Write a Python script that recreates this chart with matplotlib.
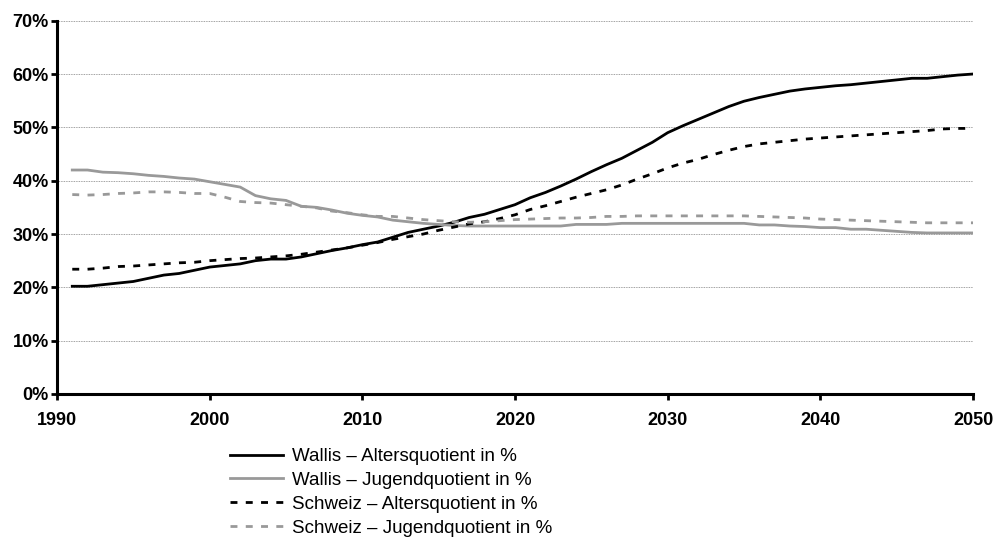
import numpy as np
import matplotlib
matplotlib.use("Agg")
import matplotlib.pyplot as plt
from matplotlib.ticker import FuncFormatter

# Jahre
jahre = list(range(1991, 2051))

# Wallis – Altersquotient in %
wallis_alter = [
    20.2, 20.2, 20.5, 20.8, 21.1, 21.7, 22.3, 22.6, 23.2, 23.8,
    24.1, 24.4, 25.0, 25.3, 25.3, 25.7, 26.3, 26.9, 27.4, 28.0,
    28.5, 29.4, 30.3, 30.9, 31.5, 32.2, 33.1, 33.7, 34.6, 35.5,
    36.8, 37.8, 39.0, 40.3, 41.7, 43.0, 44.2, 45.7, 47.2, 49.0,
    50.3, 51.5, 52.7, 53.9, 54.9, 55.6, 56.2, 56.8, 57.2, 57.5,
    57.8, 58.0, 58.3, 58.6, 58.9, 59.2, 59.2, 59.5, 59.8, 60.0,
]

# Wallis – Jugendquotient in %
wallis_jugend = [
    42.0, 42.0, 41.6, 41.5, 41.3, 41.0, 40.8, 40.5, 40.3, 39.8,
    39.3, 38.8, 37.2, 36.6, 36.3, 35.2, 35.0, 34.5, 33.9, 33.5,
    33.2, 32.6, 32.3, 32.0, 31.8, 31.6, 31.5, 31.5, 31.5, 31.5,
    31.5, 31.5, 31.5, 31.8, 31.8, 31.8, 32.0, 32.0, 32.0, 32.0,
    32.0, 32.0, 32.0, 32.0, 32.0, 31.7, 31.7, 31.5, 31.4, 31.2,
    31.2, 30.9, 30.9, 30.7, 30.5, 30.3, 30.2, 30.2, 30.2, 30.2,
]

# Schweiz – Altersquotient in %
schweiz_alter = [
    23.4, 23.4, 23.6, 23.9, 24.0, 24.2, 24.4, 24.6, 24.7, 25.0,
    25.2, 25.4, 25.5, 25.7, 25.9, 26.2, 26.6, 27.0, 27.4, 27.9,
    28.4, 29.0, 29.5, 30.0, 30.7, 31.3, 31.9, 32.3, 32.9, 33.6,
    34.6, 35.3, 36.1, 36.9, 37.6, 38.3, 39.2, 40.3, 41.3, 42.4,
    43.3, 44.0, 44.9, 45.7, 46.4, 46.9, 47.2, 47.5, 47.8, 48.0,
    48.2, 48.4, 48.6, 48.8, 49.0, 49.2, 49.4, 49.7, 49.8, 49.8,
]

# Schweiz – Jugendquotient in %
schweiz_jugend = [
    37.4, 37.3, 37.4, 37.6, 37.7, 37.9, 37.9, 37.8, 37.6, 37.6,
    36.9, 36.1, 35.9, 35.8, 35.5, 35.2, 34.9, 34.3, 34.0, 33.6,
    33.3, 33.3, 33.0, 32.7, 32.5, 32.3, 32.2, 32.3, 32.5, 32.7,
    32.8, 32.9, 33.0, 33.0, 33.1, 33.3, 33.3, 33.4, 33.4, 33.4,
    33.4, 33.4, 33.4, 33.4, 33.4, 33.3, 33.2, 33.1, 33.0, 32.8,
    32.7, 32.6, 32.5, 32.4, 32.3, 32.2, 32.1, 32.1, 32.1, 32.1,
]

labels = [
    "Wallis \u2013 Altersquotient in %",
    "Wallis \u2013 Jugendquotient in %",
    "Schweiz \u2013 Altersquotient in %",
    "Schweiz \u2013 Jugendquotient in %",
]

plt.rcParams['font.family'] = ['Liberation Sans', 'DejaVu Sans']

fig = plt.figure(figsize=(9.97, 5.4), dpi=100)
ax = fig.add_axes([57 / 997, 1 - 394 / 540, (973 - 57) / 997, (394 - 20.7) / 540])

schwarz = "#000000"
grau = "#999999"
lw = 2.0

ax.plot(jahre, wallis_alter, color=schwarz, lw=lw, label=labels[0])
ax.plot(jahre, wallis_jugend, color=grau, lw=lw, label=labels[1])
ax.plot(jahre, schweiz_alter, color=schwarz, lw=lw, dashes=(2.5, 3.0), label=labels[2])
ax.plot(jahre, schweiz_jugend, color=grau, lw=lw, dashes=(2.5, 3.0), label=labels[3])

# Achsen
ax.set_xlim(1990, 2050)
ax.set_ylim(0, 70)
ax.set_xticks(range(1990, 2051, 10))
ax.set_yticks(range(0, 71, 10))
ax.yaxis.set_major_formatter(FuncFormatter(lambda v, p: f"{int(v)}%"))

for lab in ax.get_xticklabels() + ax.get_yticklabels():
    lab.set_fontweight('bold')
    lab.set_fontsize(13)

ax.spines['top'].set_visible(False)
ax.spines['right'].set_visible(False)
ax.spines['left'].set_linewidth(2.2)
ax.spines['bottom'].set_linewidth(2.2)
ax.tick_params(axis='both', direction='out', length=4, width=2)
ax.tick_params(axis='x', pad=9)
ax.tick_params(axis='y', pad=2)

# Gitternetz
ax.yaxis.grid(True, color="#808080", linestyle=(0, (1, 1)), linewidth=0.6)
ax.set_axisbelow(True)

# Legende unterhalb
fig.legend(
    loc='upper left',
    bbox_to_anchor=(230 / 997, 1 - 448 / 540),
    frameon=False,
    fontsize=13.5,
    handlelength=2.8,
    handletextpad=0.5,
    labelspacing=0.36,
    borderpad=0,
    borderaxespad=0,
)

fig.savefig("out.png", dpi=100)
